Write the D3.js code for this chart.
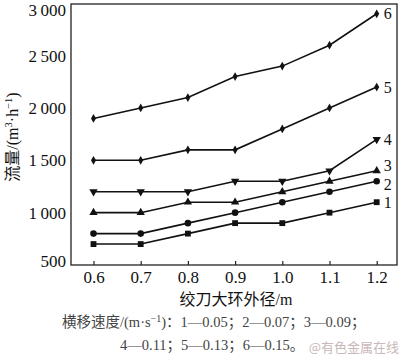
<!DOCTYPE html>
<html><head><meta charset="utf-8">
<script src="https://cdn.jsdelivr.net/npm/d3@7"></script>
<style>body{margin:0;background:#fff}svg{display:block}</style>
</head><body>
<svg id="c" width="400" height="357"></svg>
<script>
const xValues = [0.6, 0.7, 0.8, 0.9, 1.0, 1.1, 1.2];
const xTickLabels = ["0.6","0.7","0.8","0.9","1.0","1.1","1.2"];
const yTicks = [500, 1000, 1500, 2000, 2500, 3000];
const yTickLabels = ["500","1\u2009000","1\u2009500","2\u2009000","2\u2009500","3\u2009000"];
const seriesNames = ["1","2","3","4","5","6"];
const s1 = [700, 700, 800, 900, 900, 1000, 1100];
const s2 = [800, 800, 900, 1000, 1100, 1200, 1300];
const s3 = [1000, 1000, 1100, 1100, 1200, 1300, 1400];
const s4 = [1200, 1200, 1200, 1300, 1300, 1400, 1700];
const s5 = [1500, 1500, 1600, 1600, 1800, 2000, 2200];
const s6 = [1900, 2000, 2100, 2300, 2400, 2600, 2900];
const seriesValues = [s1, s2, s3, s4, s5, s6];
const markers = ["square","circle","triangleUp","triangleDown","diamond","diamond"];

const svg = d3.select("#c");
const L = 71, R = 397, T = 4, B = 265;
const xs = d3.scaleLinear().domain([0.6, 1.2]).range([93.5, 376.7]);
const y = d3.scaleLinear().domain([500, 3000]).range([B, 3.3]);

const serif = "'Liberation Serif','Times New Roman',serif";
const cjk = "'Liberation Serif','Noto Sans CJK SC',serif";

// frame
svg.append("rect").attr("x", L).attr("y", T).attr("width", R - L).attr("height", B - T)
  .attr("fill", "none").attr("stroke", "#222").attr("stroke-width", 1.3);

// x axis
const xAxis = d3.axisBottom(xs).tickValues(xValues).tickSize(-4).tickPadding(6)
  .tickFormat((d, i) => xTickLabels[i]);
const gx = svg.append("g").attr("transform", `translate(0,${B})`).call(xAxis);
gx.select(".domain").remove();
gx.selectAll("line").attr("stroke", "#222").attr("stroke-width", 1.2);
gx.selectAll("text").attr("font-family", serif).attr("font-size", 17).attr("fill", "#111");

// y axis
const yAxis = d3.axisLeft(y).tickValues(yTicks).tickSize(0).tickPadding(5)
  .tickFormat((d, i) => yTickLabels[i]);
const gy = svg.append("g").attr("transform", `translate(${L},0)`).call(yAxis);
gy.select(".domain").remove();
gy.selectAll("text").attr("font-family", serif).attr("font-size", 17).attr("fill", "#111")
  .attr("dy", (d) => d === 500 ? "0.1em" : d === 3000 ? "0.74em" : "0.32em");

// lines
const line = d3.line().x((d, i) => xs(xValues[i])).y(d => y(d));
const symMap = {
  square: d3.symbolSquare, circle: d3.symbolCircle, triangleUp: d3.symbolTriangle,
  diamond: d3.symbolDiamond
};
seriesValues.forEach((vals, si) => {
  svg.append("path").datum(vals).attr("d", line).attr("fill", "none")
    .attr("stroke", "#111").attr("stroke-width", 1.6);
  const m = markers[si];
  const size = m === "circle" ? 34 : m === "square" ? 34 : m === "diamond" ? 22 : 30;
  const sym = d3.symbol().type(m === "triangleDown" ? d3.symbolTriangle : symMap[m]).size(size);
  svg.append("g").selectAll("path").data(vals).join("path")
    .attr("d", sym)
    .attr("transform", (d, i) => `translate(${xs(xValues[i])},${y(d)})` + (m === "triangleDown" ? " rotate(180)" : ""))
    .attr("fill", "#111");
  const last = vals[vals.length - 1];
  const off = si === 2 ? -5 : si === 1 ? 3 : 0;
  svg.append("text").attr("x", xs(1.2) + 7).attr("y", y(last) + off).attr("dy", "0.35em")
    .attr("font-family", serif).attr("font-size", 16).attr("fill", "#111").text(seriesNames[si]);
});

// axis titles
svg.append("text").attr("x", 236).attr("y", 305).attr("text-anchor", "middle")
  .attr("font-family", cjk).attr("font-size", 16).attr("fill", "#111")
  .text("绞刀大环外径/m");

const yt = svg.append("text").attr("transform", "translate(18,137) rotate(-90)")
  .attr("text-anchor", "middle").attr("font-family", cjk).attr("font-size", 16).attr("fill", "#111");
yt.append("tspan").text("流量/(m");
yt.append("tspan").attr("font-size", 10.5).attr("dy", -6).text("3");
yt.append("tspan").attr("dy", 6).text("·h");
yt.append("tspan").attr("font-size", 10.5).attr("dy", -6).text("−1");
yt.append("tspan").attr("dy", 6).text(")");

// caption
const c1 = svg.append("text").attr("x", 62).attr("y", 327)
  .attr("font-family", cjk).attr("font-size", 14.5).attr("fill", "#444");
c1.append("tspan").text("横移速度/(m·s");
c1.append("tspan").attr("font-size", 10).attr("dy", -5).text("−1");
c1.append("tspan").attr("dy", 5).text(")：1—0.05；2—0.07；3—0.09；");

svg.append("text").attr("x", 120).attr("y", 350)
  .attr("font-family", cjk).attr("font-size", 14.5).attr("fill", "#444")
  .text("4—0.11；5—0.13；6—0.15。");

svg.append("text").attr("x", 399).attr("y", 352).attr("text-anchor", "end")
  .attr("font-family", "'Noto Sans CJK SC',sans-serif").attr("font-size", 13).attr("fill", "#c9b8b8")
  .text("@有色金属在线");
</script>
</body></html>
